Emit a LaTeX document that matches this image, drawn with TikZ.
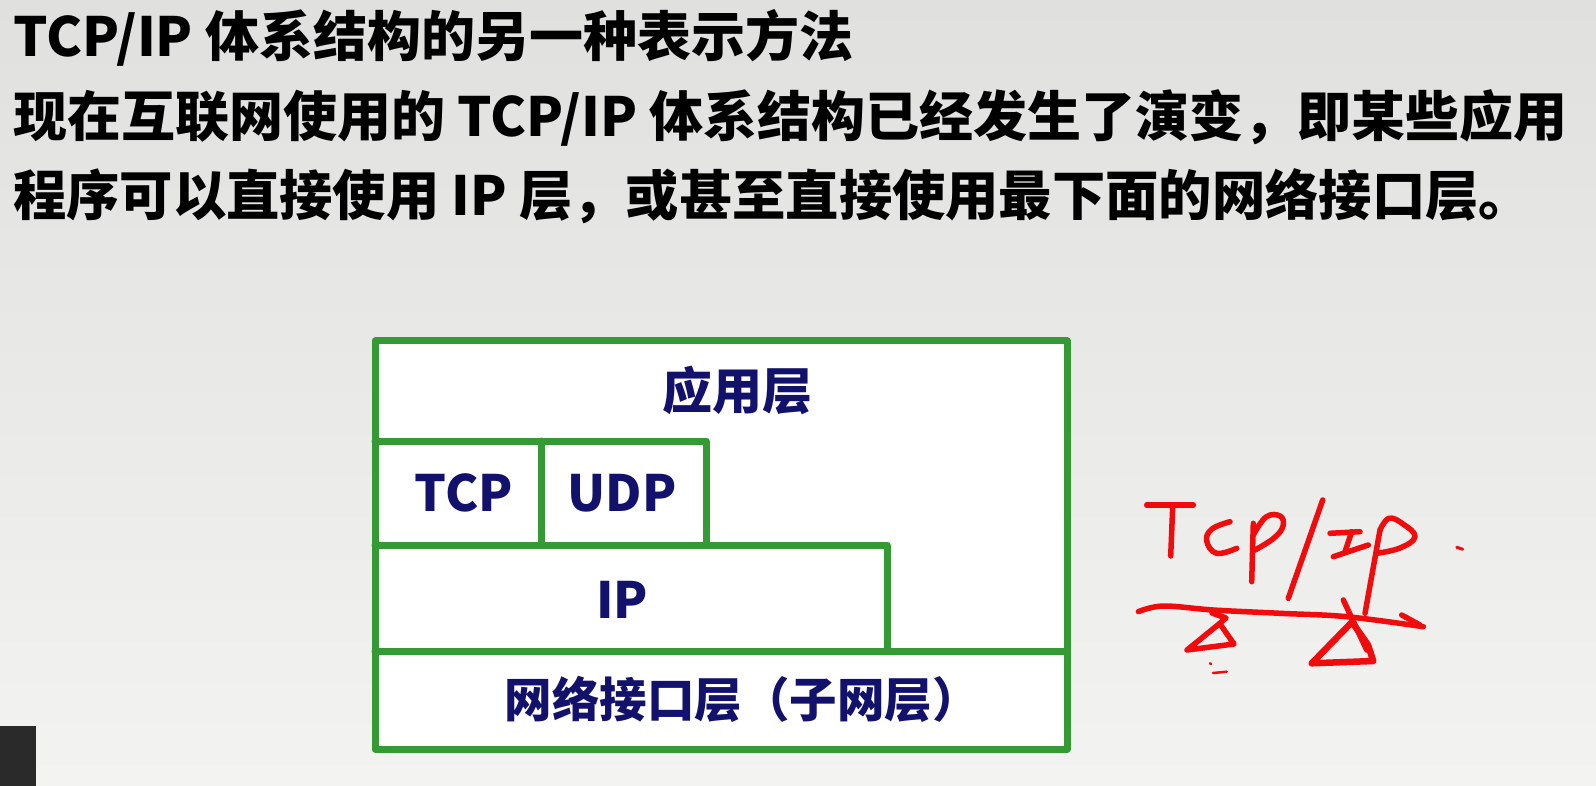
\documentclass[tikz,border=0pt]{standalone}
\usepackage{fontspec}
\newfontfamily\cjk{Noto Sans CJK SC}
\definecolor{bgtop}{RGB}{224,224,222}
\definecolor{bgbot}{RGB}{243,243,241}
\definecolor{framegreen}{RGB}{52,155,52}
\definecolor{labelnavy}{RGB}{18,18,108}
\definecolor{inkred}{RGB}{240,12,12}
\definecolor{corner}{RGB}{42,42,42}
\tikzset{
  titletext/.style={inner sep=0pt, text=black, font=\cjk\bfseries\fontsize{54}{60}\selectfont},
  layerlabel/.style={inner sep=0pt, anchor=base, text=labelnavy, font=\cjk\bfseries\fontsize{50}{60}\selectfont},
  layerline/.style={draw=framegreen, line width=7pt, line join=round, line cap=round},
  ink/.style={draw=inkred, line width=5.5pt, line cap=round, line join=round},
}
\begin{document}
\begin{tikzpicture}[x=1pt,y=-1pt]
\useasboundingbox (0,0) rectangle (1596,786);
% slide background
\shade[top color=bgtop, bottom color=bgbot] (0,0) rectangle (1596,786);
\fill[corner] (0,726) rectangle (36,786);

% heading and explanation
\node[titletext, anchor=base west] (title) at (13,57) {TCP/IP 体系结构的另一种表示方法};
\node[titletext, anchor=base west] (line2) at (13,137) {现在互联网使用的 TCP/IP 体系结构已经发生了演变，即某些应用};
\node[titletext, anchor=base west] (line3) at (13,216) {\scalebox{0.987}[1]{程序可以直接使用 IP 层，或甚至直接使用最下面的网络接口层。}};

% layer frame
\coordinate (nw) at (375,341);
\coordinate (se) at (1067,749);
\fill[white] (nw) rectangle (se);
\draw[layerline] (nw) rectangle (se);
\coordinate (appbase) at (375,441);
\coordinate (udpcorner) at (706,545);
\coordinate (ipcorner) at (887,651);
\coordinate (tcpsplit) at (541,441);
\draw[layerline] (appbase) -| (udpcorner) -| (ipcorner);
\draw[layerline] (375,651) -- (1067,651);
\draw[layerline] (375,545) -- (udpcorner);
\draw[layerline] (tcpsplit) -- (tcpsplit |- udpcorner);

% layer names
\node[layerlabel] (app) at (737,409) {应用层};
\node[layerlabel] (tcp) at (464,511) {TCP};
\node[layerlabel] (udp) at (622,511) {UDP};
\node[layerlabel] (ip) at (622,618) {IP};
\node[layerlabel, font=\cjk\bfseries\fontsize{47.5}{57}\selectfont] (net) at (742,717) {网络接口层（子网层）};

% handwritten note: "TCP/IP" over a balance beam
\draw[ink] (1146.7,505) -- (1193.3,505);
\draw[ink] (1172.7,506.7) -- (1170.7,556);
\draw[ink] plot[smooth, tension=0.7] coordinates {(1230,521.7) (1212,529) (1206.7,541) (1216.7,553.3) (1236.7,548.3)};
\draw[ink] (1253.3,523.3) -- (1251.7,581.7);
\draw[ink] plot[smooth, tension=0.7] coordinates {(1253.3,535) (1266,517) (1280,516) (1283,526) (1274,538) (1255,550)};
\draw[ink] (1322.7,500) -- (1288.3,598.3);
\draw[ink] (1330,533.3) -- (1360,531.7);
\draw[ink] (1351.7,531.7) -- (1345,551.7);
\draw[ink] (1333.3,556.7) -- (1368.3,545);
\draw[ink] (1380,530) -- (1365,613.3);
\draw[ink] plot[smooth, tension=0.7] coordinates {(1380,530) (1389,518.3) (1403,524) (1415,536.7) (1400,548) (1376.7,553.3)};
\draw[ink, line width=3pt] (1456.7,547.3) -- (1462.7,549.3);
\draw[ink] plot[smooth, tension=0.6] coordinates {(1138.3,611.7) (1163.3,606) (1213.3,610) (1280,613.3) (1346.7,616.7) (1423.3,626.7)};
\draw[ink] (1401.7,615) -- (1420,625);
\draw[ink] (1212,613) -- (1226,618) -- (1219,624) -- (1187,650) -- (1234,644) -- (1220,624);
\draw[ink] (1343.3,600) -- (1366.7,650);
\draw[ink, line width=6.5pt] (1352,622) -- (1311.7,663.3) -- (1373.3,661) -- (1368,645) -- cycle;
\draw[ink, line width=2.5pt] (1210,663.3) -- (1211,664);
\draw[ink, line width=2.5pt] (1213,673) -- (1226.7,671.7);
\end{tikzpicture}
\end{document}
